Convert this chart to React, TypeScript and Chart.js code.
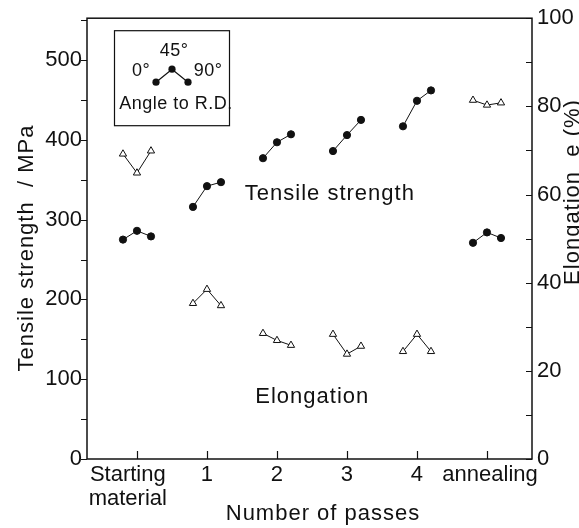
import React, { useEffect, useRef } from 'react';
import { Chart, registerables } from 'chart.js';

Chart.register(...registerables);

// ---- data ----
const groupLabels: (string | string[])[] = [['Starting   ', 'material   '], '1', '2', '3', '4', ' annealing'];
const groupPositions = [0, 1, 2, 3, 4, 5];
const angleOffsets = [-0.2, 0, 0.2]; // 0°, 45°, 90° to R.D.

const tensile0 = [275, 316, 377, 386, 417, 271];
const tensile45 = [286, 342, 397, 406, 449, 284];
const tensile90 = [279, 347, 407, 425, 462, 277];

const elong0 = [69.2, 35.3, 28.5, 28.3, 24.4, 81.4];
const elong45 = [64.9, 38.5, 26.9, 23.8, 28.3, 80.3];
const elong90 = [69.9, 34.8, 25.8, 25.6, 24.4, 80.8];

const leftTicks = [0, 50, 100, 150, 200, 250, 300, 350, 400, 450, 500, 550];
const rightTicks = [0, 10, 20, 30, 40, 50, 60, 70, 80, 90, 100];

const xTitle = 'Number of passes';
const leftTitle = 'Tensile strength  / MPa';
const rightTitle = 'Elongation  e (%)';
const tensileNote = 'Tensile strength';
const elongNote = 'Elongation';
const legendTitle = 'Angle to R.D.';
const angleLabels = ['0°', '45°', '90°'];

const FONT = "'Liberation Sans', Arial, Helvetica, sans-serif";
const INK = '#111';

function buildDatasets() {
  const ds: any[] = [];
  groupPositions.forEach((pos, i) => {
    const t = [tensile0[i], tensile45[i], tensile90[i]];
    const e = [elong0[i], elong45[i], elong90[i]];
    ds.push({
      label: 'tensile-' + i,
      yAxisID: 'yL',
      data: t.map((v, k) => ({ x: pos + angleOffsets[k], y: v })),
      borderColor: INK,
      borderWidth: 1,
      backgroundColor: INK,
      pointBackgroundColor: INK,
      pointBorderColor: INK,
      pointRadius: 3.6,
      pointStyle: 'circle',
      showLine: true,
      tension: 0,
    });
    ds.push({
      label: 'elong-' + i,
      yAxisID: 'yR',
      data: e.map((v, k) => ({ x: pos + angleOffsets[k], y: v })),
      borderColor: INK,
      borderWidth: 1,
      backgroundColor: '#fff',
      pointBackgroundColor: '#fff',
      pointBorderColor: INK,
      pointBorderWidth: 1,
      pointRadius: 4.2,
      pointStyle: 'triangle',
      showLine: true,
      tension: 0,
    });
  });
  return ds;
}

const framePlugin = {
  id: 'framePlugin',
  afterDraw(chart: any) {
    const { ctx, chartArea: a, scales } = chart;
    const x = scales.x, yL = scales.yL, yR = scales.yR;
    ctx.save();
    ctx.strokeStyle = INK;
    ctx.lineWidth = 1.5;
    ctx.strokeRect(a.left, a.top, a.right - a.left, a.bottom - a.top);
    ctx.lineWidth = 1.2;
    ctx.beginPath();
    for (const t of yL.ticks) {
      const y = Math.round(yL.getPixelForValue(t.value)) + 0.5;
      ctx.moveTo(a.left - 6, y);
      ctx.lineTo(a.left, y);
    }
    for (const t of yR.ticks) {
      const y = Math.round(yR.getPixelForValue(t.value)) + 0.5;
      ctx.moveTo(a.right - 6, y);
      ctx.lineTo(a.right, y);
    }
    for (const t of x.ticks) {
      const px = Math.round(x.getPixelForValue(t.value)) + 0.5;
      ctx.moveTo(px, a.bottom);
      ctx.lineTo(px, a.bottom - 8);
    }
    ctx.stroke();

    // titles
    ctx.fillStyle = INK;
    (ctx as any).letterSpacing = '1px';
    ctx.font = `22px ${FONT}`;
    ctx.textAlign = 'center';
    ctx.textBaseline = 'middle';
    ctx.fillText(xTitle, 323, 514);

    ctx.save();
    ctx.translate(27, 248);
    ctx.rotate(-Math.PI / 2);
    ctx.fillText(leftTitle, 0, 0);
    ctx.restore();

    ctx.save();
    ctx.translate(573, 192);
    ctx.rotate(-Math.PI / 2);
    ctx.fillText(rightTitle, 0, 0);
    ctx.restore();

    // in-plot notes
    ctx.textAlign = 'left';
    ctx.textBaseline = 'alphabetic';
    ctx.fillText(tensileNote, x.getPixelForValue(1.54), yL.getPixelForValue(325));
    ctx.fillText(elongNote, x.getPixelForValue(1.69), yL.getPixelForValue(70));

    // legend box
    const bx = a.left + 27, by = a.top + 12;
    ctx.lineWidth = 1.2;
    ctx.strokeRect(bx + 0.5, by + 0.5, 115, 95);
    const pts = [[42, 52], [58, 39], [74, 52]];
    ctx.lineWidth = 1.2;
    ctx.beginPath();
    pts.forEach(([dx, dy], k) => {
      if (k === 0) ctx.moveTo(bx + dx, by + dy);
      else ctx.lineTo(bx + dx, by + dy);
    });
    ctx.stroke();
    pts.forEach(([dx, dy]) => {
      ctx.beginPath();
      ctx.arc(bx + dx, by + dy, 3.6, 0, Math.PI * 2);
      ctx.fill();
    });
    (ctx as any).letterSpacing = '0.5px';
    ctx.font = `18px ${FONT}`;
    ctx.textAlign = 'center';
    ctx.textBaseline = 'middle';
    ctx.fillText(angleLabels[0], bx + 27, by + 41);
    ctx.fillText(angleLabels[1], bx + 60, by + 21);
    ctx.fillText(angleLabels[2], bx + 94, by + 41);
    ctx.fillText(legendTitle, bx + 62, by + 74);
    ctx.restore();
  },
};

export default function App() {
  const ref = useRef<HTMLCanvasElement | null>(null);
  useEffect(() => {
    document.body.style.margin = '0';
    const canvas = ref.current;
    if (!canvas) return;
    const chart = new Chart(canvas, {
      type: 'scatter',
      data: { datasets: buildDatasets() },
      options: {
        responsive: false,
        animation: false,
        devicePixelRatio: 1,
        layout: { padding: { top: 17, left: 0, right: 0, bottom: 0 } },
        plugins: {
          legend: { display: false },
          tooltip: { enabled: false },
          title: { display: false },
        },
        scales: {
          x: {
            type: 'linear',
            position: 'bottom',
            min: -0.714,
            max: 5.643,
            afterBuildTicks: (s: any) => {
              s.ticks = groupPositions.map((v) => ({ value: v }));
            },
            afterFit: (s: any) => {
              s.height = 69;
            },
            ticks: {
              autoSkip: false,
              maxRotation: 0,
              minRotation: 0,
              padding: 4,
              color: INK,
              font: { family: FONT, size: 22, lineHeight: 1.1 },
              callback: (v: any) => {
                const i = groupPositions.indexOf(Number(v));
                return i >= 0 ? groupLabels[i] : '';
              },
            },
            grid: { display: false, drawTicks: false },
            border: { display: false },
          },
          yL: {
            type: 'linear',
            position: 'left',
            min: 0,
            max: 552.5,
            afterBuildTicks: (s: any) => {
              s.ticks = leftTicks.map((v) => ({ value: v }));
            },
            afterFit: (s: any) => {
              s.width = 87;
            },
            ticks: {
              autoSkip: false,
              padding: 5,
              color: INK,
              font: { family: FONT, size: 22 },
              callback: (v: any) => (Number(v) % 100 === 0 ? String(v) : ''),
            },
            grid: { display: false, drawTicks: false },
            border: { display: false },
          },
          yR: {
            type: 'linear',
            position: 'right',
            min: 0,
            max: 100,
            afterBuildTicks: (s: any) => {
              s.ticks = rightTicks.map((v) => ({ value: v }));
            },
            afterFit: (s: any) => {
              s.width = 47;
            },
            ticks: {
              autoSkip: false,
              padding: 5,
              color: INK,
              font: { family: FONT, size: 22 },
              callback: (v: any) => (Number(v) % 20 === 0 ? String(v) : ''),
            },
            grid: { display: false, drawTicks: false },
            border: { display: false },
          },
        },
      } as any,
      plugins: [framePlugin],
    });
    return () => chart.destroy();
  }, []);
  return (
    <div style={{ width: 579, height: 528, background: '#fff' }}>
      <canvas ref={ref} width={579} height={528} style={{ display: 'block', width: 579, height: 528 }} />
    </div>
  );
}
